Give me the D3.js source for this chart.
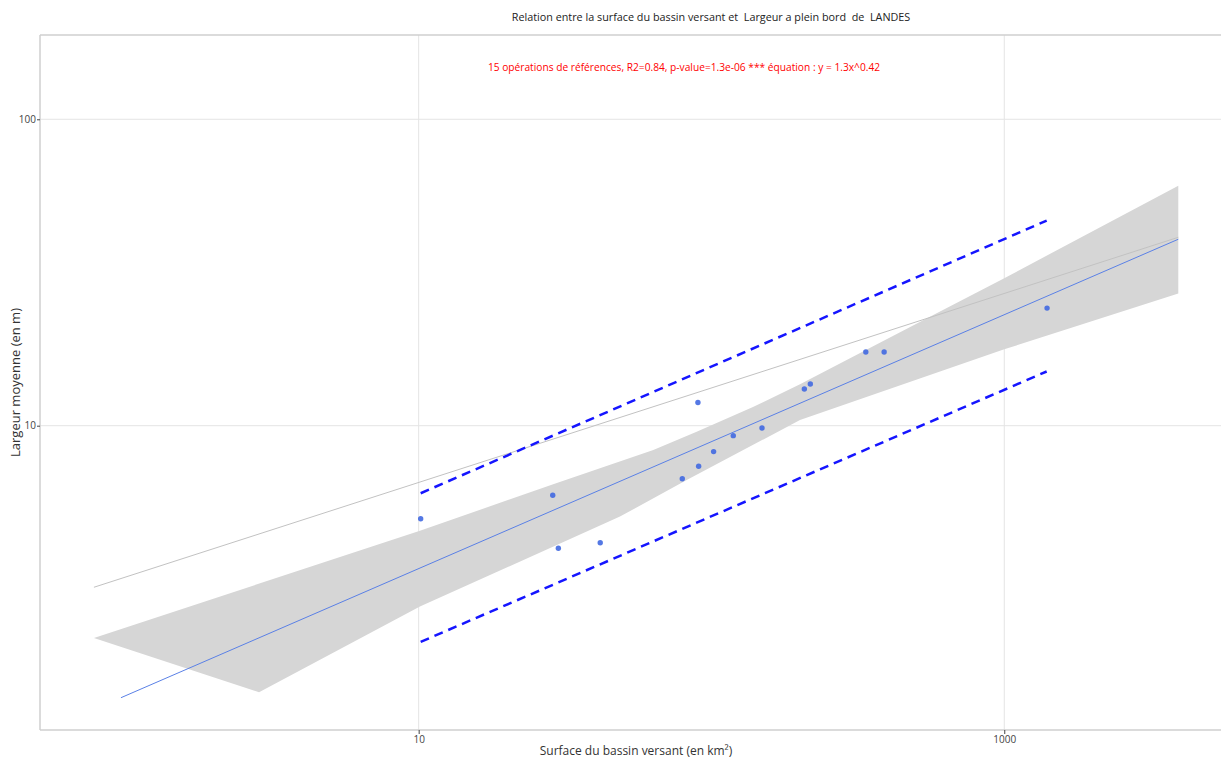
<!DOCTYPE html>
<html><head><meta charset="utf-8">
<script src="https://cdn.jsdelivr.net/npm/d3@7"></script>
<style>body{margin:0;background:#fff} text{font-family:"Open Sans",sans-serif}</style>
</head><body><svg id="c" width="1221" height="758"></svg>
<script>
// ---- data ----
const surface = [10.16, 28.7, 30.0, 41.7, 79.5, 89.9, 90.4, 101.7, 118.7, 148.8, 207.6, 217.6, 336.6, 388.8, 1400];
const largeur = [4.97, 5.93, 3.98, 4.15, 6.71, 11.9, 7.37, 8.23, 9.28, 9.83, 13.18, 13.68, 17.4, 17.4, 24.2];
const fitX = [0.962, 3930];
const fitY = [1.295, 40.6];
const refX = [0.778, 3930];
const refY = [2.97, 41.2];
const bandUpperX = [0.778, 10.1, 28.8, 63.3, 89.0, 138.6, 200.6, 587.6, 1000, 3930];
const bandUpperY = [2.03, 4.54, 6.44, 8.33, 9.56, 11.5, 13.65, 23.3, 30.3, 60.7];
const bandLowerX = [3930, 1000, 200.6, 82.3, 48.7, 10.1, 2.85];
const bandLowerY = [27.0, 17.75, 10.43, 6.65, 5.05, 2.57, 1.35];
const predX = [10.16, 1396];
const predUpperY = [6.02, 46.7];
const predLowerY = [1.97, 15.03];
const xTickValues = [10, 1000];
const yTickValues = [10, 100];
const titleText = "Relation entre la surface du bassin versant et  Largeur a plein bord  de  LANDES";
const subtitleText = "15 opérations de références, R2=0.84, p-value=1.3e-06 *** équation : y = 1.3x^0.42";
const xTitle = "Surface du bassin versant (en km²)";
const yTitle = "Largeur moyenne (en m)";

// ---- layout ----
const L = 40, R = 1232, T = 35, B = 730;
const svg = d3.select("#c");
const x = d3.scaleLog().domain([0.509, 5995]).range([L, R]);
const y = d3.scaleLog().domain([1.016, 188.4]).range([B, T]);

svg.append("clipPath").attr("id", "clip").append("rect")
  .attr("x", L).attr("y", T).attr("width", R - L).attr("height", B - T);

// grid
const grid = svg.append("g");
grid.selectAll(".gx").data(xTickValues).join("line")
  .attr("x1", d => x(d)).attr("x2", d => x(d)).attr("y1", T).attr("y2", B)
  .attr("stroke", "#e4e4e4").attr("stroke-width", 1);
grid.selectAll(".gy").data(yTickValues).join("line")
  .attr("x1", L).attr("x2", R).attr("y1", d => y(d)).attr("y2", d => y(d))
  .attr("stroke", "#e4e4e4").attr("stroke-width", 1);

const plot = svg.append("g").attr("clip-path", "url(#clip)");

// confidence band
const bandPts = bandUpperX.map((v, i) => [v, bandUpperY[i]])
  .concat(bandLowerX.map((v, i) => [v, bandLowerY[i]]));
plot.append("path")
  .attr("d", d3.line().x(d => x(d[0])).y(d => y(d[1]))(bandPts) + "Z")
  .attr("fill", "#d6d6d6").attr("stroke", "none");

// reference gray line
plot.append("path")
  .attr("d", d3.line().x(d => x(d[0])).y(d => y(d[1]))(refX.map((v, i) => [v, refY[i]])))
  .attr("fill", "none").attr("stroke", "#c2c2c2").attr("stroke-width", 1);

// fit line
plot.append("path")
  .attr("d", d3.line().x(d => x(d[0])).y(d => y(d[1]))(fitX.map((v, i) => [v, fitY[i]])))
  .attr("fill", "none").attr("stroke", "#5a80e6").attr("stroke-width", 1);

// prediction lines
[predUpperY, predLowerY].forEach(arr => {
  plot.append("path")
    .attr("d", d3.line().x(d => x(d[0])).y(d => y(d[1]))(predX.map((v, i) => [v, arr[i]])))
    .attr("fill", "none").attr("stroke", "#1515ff").attr("stroke-width", 2.5)
    .attr("stroke-dasharray", "9,6");
});

// points
plot.selectAll("circle").data(surface).join("circle")
  .attr("cx", d => x(d)).attr("cy", (d, i) => y(largeur[i])).attr("r", 2.7)
  .attr("fill", "#4169e1").attr("opacity", 0.9);

// frame
svg.append("line").attr("x1", L).attr("x2", 1221).attr("y1", T).attr("y2", T).attr("stroke", "#cfcfcf").attr("stroke-width", 1.5);
svg.append("line").attr("x1", L).attr("x2", L).attr("y1", T).attr("y2", B).attr("stroke", "#cfcfcf").attr("stroke-width", 1.5);
svg.append("line").attr("x1", L).attr("x2", 1221).attr("y1", B).attr("y2", B).attr("stroke", "#cfcfcf").attr("stroke-width", 1.5);

// axes
const xAxis = d3.axisBottom(x).tickValues(xTickValues).tickFormat(d3.format("d")).tickSize(4).tickPadding(2);
const gx = svg.append("g").attr("transform", `translate(0,${B})`).call(xAxis);
gx.select(".domain").remove();
gx.selectAll("line").attr("stroke", "#444");
gx.selectAll("text").attr("font-size", 10).attr("fill", "#444").attr("font-family", "Open Sans");

const yAxis = d3.axisLeft(y).tickValues(yTickValues).tickFormat(d3.format("d")).tickSize(3).tickPadding(1);
const gy = svg.append("g").attr("transform", `translate(${L},0)`).call(yAxis);
gy.select(".domain").remove();
gy.selectAll("line").attr("stroke", "#444");
gy.selectAll("text").attr("font-size", 10).attr("fill", "#444").attr("font-family", "Open Sans");

// titles
svg.append("text").attr("x", 711).attr("y", 21).attr("text-anchor", "middle")
  .attr("xml:space", "preserve").style("white-space", "pre")
  .attr("font-size", 10.8).attr("fill", "#222").text(titleText);
svg.append("text").attr("x", 684).attr("y", 71).attr("text-anchor", "middle")
  .attr("font-size", 10.2).attr("fill", "#ff0000").text(subtitleText);
svg.append("text").attr("x", 636).attr("y", 755).attr("text-anchor", "middle")
  .attr("font-size", 12).attr("fill", "#333").text(xTitle);
svg.append("text").attr("transform", "translate(20,382.5) rotate(-90)").attr("text-anchor", "middle")
  .attr("font-size", 13).attr("fill", "#333").text(yTitle);
</script></body></html>
